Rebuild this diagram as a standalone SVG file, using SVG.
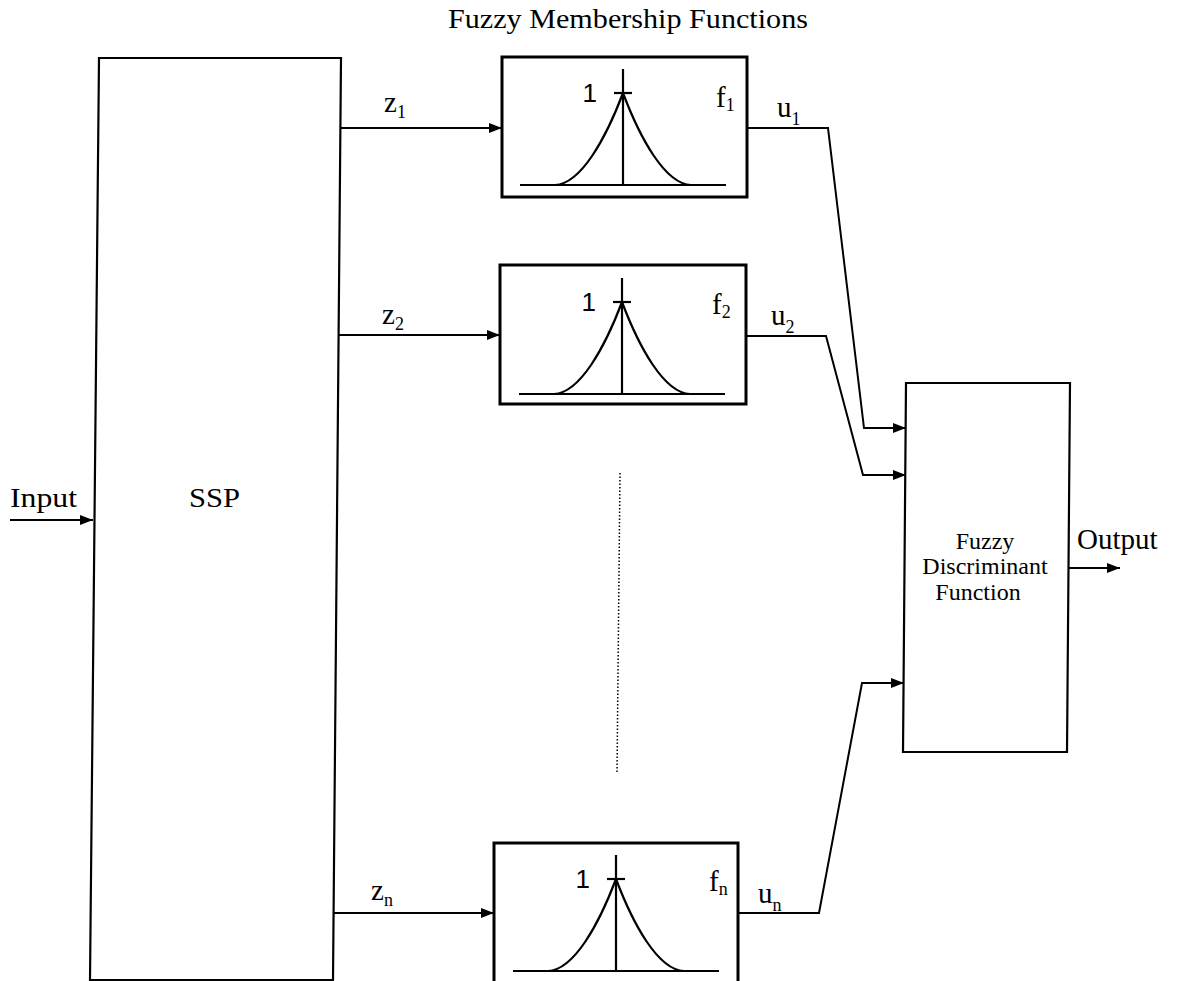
<svg xmlns="http://www.w3.org/2000/svg" width="1177" height="981" viewBox="0 0 1177 981">
<style>
.box{fill:none;stroke:#000;stroke-width:2.2}
.fbox{fill:none;stroke:#000;stroke-width:3}
.ln{fill:none;stroke:#000;stroke-width:2}
.gr{fill:none;stroke:#000;stroke-width:2.2}
.serif{font-family:"Liberation Serif","Times New Roman",serif;fill:#000}
.sans{font-family:"Liberation Sans",Arial,sans-serif;fill:#000}
.lbl{font-size:29px}
.sub{font-size:18px}
</style>
<defs>
<marker id="ah" markerUnits="userSpaceOnUse" markerWidth="14" markerHeight="12" refX="13" refY="6" orient="auto">
<path d="M0,1 L13,6 L0,11 Z" fill="#000"/>
</marker>
<g id="mf">
<path class="gr" d="M-103,92 H103"/>
<path class="gr" d="M0,-24 V92"/>
<path class="gr" d="M-9,0 H9" stroke-width="3"/>
<path class="gr" d="M-68,92 C-42,91 -17,45 0,0 C17,45 42,91 68,92"/>
<text class="sans" x="-26" y="9" font-size="26" text-anchor="end">1</text>
</g>
</defs>
<rect width="1177" height="981" fill="#fff"/>

<text class="serif" x="448" y="28" font-size="27" textLength="360" lengthAdjust="spacingAndGlyphs">Fuzzy Membership Functions</text>

<g id="ssp">
<polygon class="box" points="99,58 341,58 333,980 90,980"/>
<text class="serif" x="189" y="507" font-size="27" textLength="51" lengthAdjust="spacingAndGlyphs">SSP</text>
</g>

<g id="f1">
<rect class="fbox" x="502" y="57" width="245" height="140"/>
<use href="#mf" x="623" y="93"/>
<text class="serif lbl" x="716" y="107">f<tspan class="sub" dy="4">1</tspan></text>
</g>

<g id="f2">
<rect class="fbox" x="500" y="265" width="246" height="139"/>
<use href="#mf" x="622" y="302"/>
<text class="serif lbl" x="712" y="314">f<tspan class="sub" dy="4">2</tspan></text>
</g>

<g id="fn">
<rect class="fbox" x="494" y="843" width="244" height="150"/>
<use href="#mf" x="616" y="879"/>
<text class="serif lbl" x="709" y="891">f<tspan class="sub" dy="4">n</tspan></text>
</g>

<g id="fdf">
<polygon class="box" points="906,383 1070,383 1067,752 903,752"/>
<text class="serif" font-size="24" text-anchor="middle"><tspan x="985" y="549">Fuzzy</tspan><tspan x="985" y="574">Discriminant</tspan><tspan x="978" y="600">Function</tspan></text>
</g>

<g id="connectors">
<line class="ln" x1="10" y1="520" x2="93" y2="520" marker-end="url(#ah)"/>
<text class="serif" x="10" y="507" font-size="27" textLength="67" lengthAdjust="spacingAndGlyphs">Input</text>

<line class="ln" x1="341" y1="128" x2="502" y2="128" marker-end="url(#ah)"/>
<text class="serif lbl" x="384" y="112">z<tspan class="sub" dy="6">1</tspan></text>

<line class="ln" x1="338" y1="335" x2="500" y2="335" marker-end="url(#ah)"/>
<text class="serif lbl" x="382" y="324">z<tspan class="sub" dy="6">2</tspan></text>

<line class="ln" x1="333" y1="913" x2="494" y2="913" marker-end="url(#ah)"/>
<text class="serif lbl" x="371" y="900">z<tspan class="sub" dy="6">n</tspan></text>

<polyline class="ln" points="747,128 828,128 864,428 906,428" marker-end="url(#ah)"/>
<text class="serif lbl" x="777" y="117">u<tspan class="sub" dy="8">1</tspan></text>

<polyline class="ln" points="746,336 826,336 863,475 906,475" marker-end="url(#ah)"/>
<text class="serif lbl" x="771" y="325">u<tspan class="sub" dy="8">2</tspan></text>

<polyline class="ln" points="738,913 819,913 862,683 904,683" marker-end="url(#ah)"/>
<text class="serif lbl" x="758" y="903">u<tspan class="sub" dy="8">n</tspan></text>

<line x1="620" y1="473" x2="617" y2="773" stroke="#000" stroke-width="1.5" stroke-dasharray="1.5,2"/>

<line class="ln" x1="1069" y1="568" x2="1120" y2="568" marker-end="url(#ah)"/>
<text class="serif" x="1077" y="549" font-size="29">Output</text>
</g>
</svg>
